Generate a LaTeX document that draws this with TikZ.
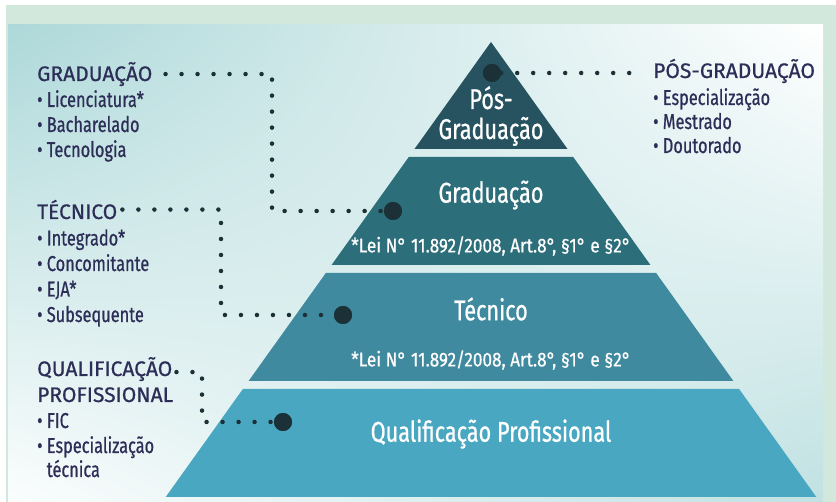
\documentclass[tikz,border=0pt]{standalone}
\usepackage{fontspec}
\setmainfont{Fira Sans}
\newfontfamily\headfont{Fira Sans}[FakeBold=0.7]
\newfontfamily\narrowfont{Fira Sans}[FakeStretch=0.76, FakeBold=0.7]
\newfontfamily\lawfont{Fira Sans}[FakeStretch=0.86, FakeBold=0.5]
\usetikzlibrary{positioning,shadings}

\definecolor{framegreen}{HTML}{D3E8DC}
\definecolor{panelteal}{HTML}{ADD8D9}
\definecolor{panellow}{HTML}{C0E1E2}
\definecolor{tierA}{HTML}{26535F}
\definecolor{tierB}{HTML}{2D6E7B}
\definecolor{tierC}{HTML}{3F8A9F}
\definecolor{tierD}{HTML}{4AA7C1}
\definecolor{dotdark}{HTML}{1B3137}
\definecolor{navy}{HTML}{2C2E57}

\tikzset{
  tiertext/.style={text=white, font=\narrowfont\fontsize{28.5}{30}\selectfont, align=center, inner sep=0pt},
  lawtext/.style={text=white, font=\lawfont\fontsize{20}{20}\selectfont, inner sep=0pt},
  headtext/.style={text=navy, font=\headfont\fontsize{21}{24}\selectfont, inner sep=0pt, anchor=base west},
  itemtext/.style={text=navy, font=\narrowfont\fontsize{21.5}{25}\selectfont, inner sep=0pt, anchor=base west},
  bigdot/.style={circle, fill=dotdark, minimum size=18pt, inner sep=0pt},
  dotline/.style={line width=4.5pt, line cap=round, dash pattern=on 0pt off 16pt, color=dotdark},
}

\begin{document}
\begin{tikzpicture}[x=1pt,y=-1pt]
\useasboundingbox (0,0) rectangle (836,502);

% frame and panel
\fill[white] (0,0) rectangle (836,502);
\fill[framegreen] (6,5) rectangle (836,502);
\shade[upper left=panelteal, upper right=white, lower left=white!96!panelteal, lower right=panellow]
  (8,25) rectangle (823,502);

% pyramid, one tier per row
\foreach \ytop/\ybot/\col in {42/149/tierA, 157/265/tierB, 273/381/tierC, 389/497/tierD}
  \fill[\col] ({491-0.715*(\ytop-42)},\ytop) -- ({491+0.715*(\ytop-42)},\ytop)
    -- ({491+0.715*(\ybot-42)},\ybot) -- ({491-0.715*(\ybot-42)},\ybot) -- cycle;

\node[tiertext] (tpos) at (491,116) {Pós-\\Graduação};
\node[tiertext] (tgrad) at (491,195) {Graduação};
\node[lawtext] (lawgrad) at (491,246) {*Lei N° 11.892/2008, Art.8°, §1° e §2°};
\node[tiertext] (ttec) at (491,309) {Técnico};
\node[lawtext] (lawtec) at (491,360) {*Lei N° 11.892/2008, Art.8°, §1° e §2°};
\node[tiertext] (tqual) at (491,434) {Qualificação Profissional};

% side lists
\node[headtext] (grad) at (37,81) {GRADUAÇÃO};
\foreach \t [count=\i] in {Licenciatura*, Bacharelado, Tecnologia}
  \node[itemtext] (grad\i) at (37,{82+25*\i}) {• \t};

\node[headtext] (tec) at (37,219) {TÉCNICO};
\foreach \t [count=\i] in {Integrado*, Concomitante, EJA*, Subsequente}
  \node[itemtext] (tec\i) at (37,{220+25.5*\i}) {• \t};

\node[headtext] (qualA) at (37,376) {QUALIFICAÇÃO};
\node[headtext] (qualB) at (37,402) {PROFISSIONAL};
\node[itemtext] (qual1) at (37,428) {• FIC};
\node[itemtext] (qual2) at (37,453) {• Especialização};
\node[itemtext] (qual3) at (qual2.base west) [yshift=-24pt] {\phantom{• }técnica};

\node[headtext] (posg) at (653,78) {PÓS-GRADUAÇÃO};
\foreach \t [count=\i] in {Especialização, Mestrado, Doutorado}
  \node[itemtext] (posg\i) at (653,{81+24*\i}) {• \t};

% big dots on the tiers
\node[bigdot] (dpos) at (492,73) {};
\node[bigdot] (dgrad) at (393,211) {};
\node[bigdot] (dtec) at (343,315) {};
\node[bigdot] (dqual) at (283,422) {};

% dotted leaders
\coordinate (gturn) at (272,211);
\coordinate (tturn) at (221,315);
\coordinate (qturn) at (202,422);
\draw[dotline, shorten <=13pt] (grad.east) -| (gturn) -- (dgrad);
\draw[dotline, shorten <=5pt] (tec.east) -| (tturn) -- (dtec);
\draw[dotline, shorten <=4pt] ([yshift=-3pt]qualA.east) -| (qturn) -- (dqual);
\draw[dotline, shorten >=12pt] (dpos) -- (dpos -| posg.west);
\node[bigdot] at (dpos) {};
\node[bigdot] at (dgrad) {};
\node[bigdot] at (dtec) {};
\node[bigdot] at (dqual) {};
\end{tikzpicture}
\end{document}
